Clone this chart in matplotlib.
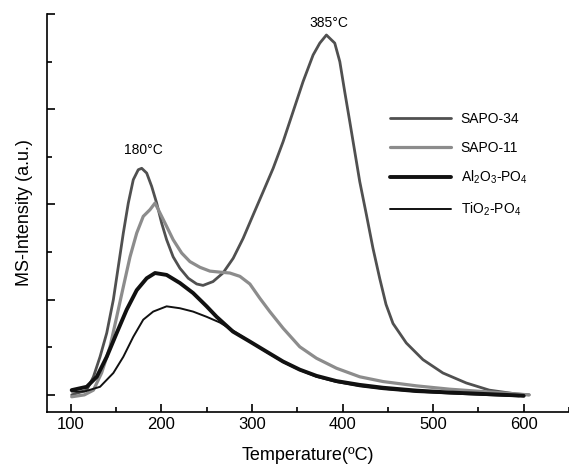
import matplotlib.pyplot as plt
from matplotlib.ticker import MultipleLocator

plt.rcParams['font.family'] = ['Liberation Sans', 'DejaVu Sans']
plt.rcParams['mathtext.fontset'] = 'custom'
plt.rcParams['mathtext.rm'] = 'Liberation Sans'
plt.rcParams['mathtext.it'] = 'Liberation Sans:italic'
plt.rcParams['mathtext.bf'] = 'Liberation Sans:bold'

# TPD-MS traces (temperature in degC, intensity in arbitrary units)
t_sapo34 = [101, 117.6, 125, 132.3, 139.7, 147, 152.5, 158, 163.5, 169, 174.5, 178.3, 183.8,
            189.3, 194.8, 200.3, 205.8, 213, 220.5, 229.7, 239, 246, 257, 268, 279.3, 290.3,
            301.3, 312.4, 323.4, 334.4, 345.4, 356.4, 367.5, 374.9, 382.2, 391.4, 397, 402.4,
            408, 413.5, 419, 426.4, 433.6, 441, 448, 455.7, 470.4, 488.8, 510.8, 536.6, 562,
            591.7, 606]
i_sapo34 = [0.0, 0.1, 0.38, 0.8, 1.3, 2.0, 2.7, 3.4, 4.03, 4.52, 4.73, 4.76, 4.66,
            4.38, 4.03, 3.61, 3.26, 2.9, 2.66, 2.45, 2.33, 2.3, 2.38, 2.56, 2.87, 3.29,
            3.78, 4.27, 4.76, 5.32, 5.95, 6.58, 7.14, 7.39, 7.56, 7.39, 7.0, 6.37,
            5.74, 5.11, 4.48, 3.78, 3.08, 2.45, 1.9, 1.5, 1.09, 0.74, 0.46, 0.25, 0.1,
            0.02, 0.0]

t_sapo11 = [101, 115, 125, 134, 143.3, 150.7, 158, 165.4, 172.8, 180, 187.4, 193, 198.5,
            205.8, 213, 222.4, 231.5, 242.6, 253.6, 264, 275.6, 286.7, 297.7, 308.7, 319.7,
            334.4, 352.8, 371.2, 393.3, 419, 444.7, 481.5, 518, 555, 591.7, 606]
i_sapo11 = [-0.04, 0.0, 0.1, 0.46, 1.01, 1.64, 2.27, 2.9, 3.4, 3.75, 3.89, 4.03, 3.82,
            3.54, 3.26, 2.98, 2.8, 2.68, 2.6, 2.58, 2.56, 2.49, 2.33, 2.03, 1.75,
            1.4, 1.01, 0.77, 0.56, 0.38, 0.28, 0.19, 0.12, 0.07, 0.02, 0.0]

t_al2o3 = [101, 117.6, 128.7, 139.7, 150.7, 161.7, 172.8, 183.8, 193, 205.8, 220.5, 235, 250,
           261, 279, 297.7, 316, 334.4, 352.8, 371.2, 393.3, 419, 444.7, 481.5, 518, 555,
           591.7, 600]
i_al2o3 = [0.1, 0.17, 0.38, 0.8, 1.3, 1.79, 2.2, 2.45, 2.56, 2.52, 2.35, 2.14, 1.86,
           1.64, 1.33, 1.12, 0.91, 0.7, 0.53, 0.4, 0.29, 0.21, 0.15, 0.09, 0.05, 0.02,
           -0.01, -0.02]

t_tio2 = [101, 115, 132.3, 147, 158, 169, 180, 191, 205.8, 220.5, 235, 250, 264.6, 279,
          297.7, 316, 334.4, 352.8, 371.2, 393.3, 419, 444.7, 481.5, 518, 555, 595]
i_tio2 = [0.07, 0.07, 0.17, 0.46, 0.8, 1.22, 1.58, 1.75, 1.86, 1.82, 1.75, 1.64, 1.52, 1.35,
          1.12, 0.9, 0.69, 0.52, 0.38, 0.27, 0.18, 0.12, 0.06, 0.03, 0.0, -0.03]

series = [
    (t_sapo34, i_sapo34, 'SAPO-34', '#505050', 2.0),
    (t_sapo11, i_sapo11, 'SAPO-11', '#8c8c8c', 2.3),
    (t_al2o3, i_al2o3, r'Al$_2$O$_3$-PO$_4$', '#111111', 2.8),
    (t_tio2, i_tio2, r'TiO$_2$-PO$_4$', '#111111', 1.4),
]

fig = plt.figure(figsize=(5.69, 4.69), dpi=100)
ax = fig.add_axes([0.083, 0.1215, 0.917, 0.8485])

for t, y, label, color, lw in series:
    ax.plot(t, y, color=color, lw=lw, label=label,
            solid_joinstyle='round', solid_capstyle='round')

ax.set_xlim(74, 650)
ax.set_ylim(-0.36, 8)
ax.xaxis.set_minor_locator(MultipleLocator(50))
ax.yaxis.set_major_locator(MultipleLocator(2))
ax.yaxis.set_minor_locator(MultipleLocator(1))
ax.set_xticks(range(100, 601, 100))
ax.tick_params(which='both', direction='in', width=1.2, labelsize=12)
ax.tick_params(which='major', length=6)
ax.tick_params(which='minor', length=3.5)
ax.tick_params(axis='y', labelleft=False)
for side in ('top', 'right'):
    ax.spines[side].set_visible(False)
for side in ('left', 'bottom'):
    ax.spines[side].set_linewidth(1.2)

ax.set_xlabel('Temperature(ºC)', fontsize=13, labelpad=11)
ax.set_ylabel('MS-Intensity (a.u.)', fontsize=13, labelpad=7)

ax.text(180, 5.0, '180°C', ha='center', va='bottom', fontsize=10)
ax.text(385, 7.66, '385°C', ha='center', va='bottom', fontsize=10)

ax.legend(loc='upper left', bbox_to_anchor=(0.663, 0.788), bbox_transform=fig.transFigure,
          frameon=False, fontsize=10, handlelength=4.4, handletextpad=0.7, labelspacing=1.05)

plt.savefig('out.png', dpi=100)
